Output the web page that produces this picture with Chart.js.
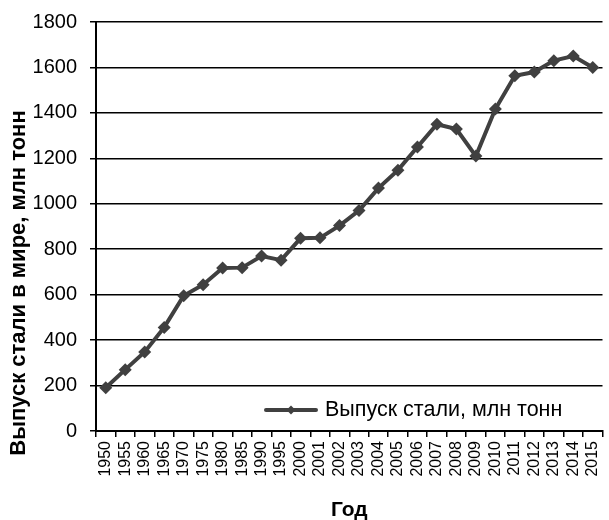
<!DOCTYPE html>
<html>
<head>
<meta charset="utf-8">
<script src="https://cdn.jsdelivr.net/npm/chart.js@4/dist/chart.umd.min.js"></script>
<style>
html,body{margin:0;padding:0;background:#fff;}
#wrap{width:609px;height:520px;}
</style>
</head>
<body>
<div id="wrap"><canvas id="c" width="609" height="520"></canvas></div>
<script>
const years = ["1950","1955","1960","1965","1970","1975","1980","1985","1990","1995","2000","2001","2002","2003","2004","2005","2006","2007","2008","2009","2010","2011","2012","2013","2014","2015"];
const steel = [190,270,348,456,595,644,717,719,770,752,848,850,904,970,1069,1148,1250,1350,1329,1210,1417,1563,1580,1630,1650,1600];
const yTicks = [0,200,400,600,800,1000,1200,1400,1600,1800];
const seriesLabel = "Выпуск стали, млн тонн";
const yTitle = "Выпуск стали в мире, млн тонн";
const xTitle = "Год";

const FONT = "'Liberation Sans', Arial, sans-serif";

const extras = {
  id: 'extras',
  afterDraw(chart) {
    const ctx = chart.ctx;
    const ds = chart.data.datasets[0];
    const x0 = 266, x1 = 316, y = 410;
    ctx.save();
    ctx.strokeStyle = ds.borderColor;
    ctx.lineWidth = 4;
    ctx.lineCap = 'round';
    ctx.beginPath(); ctx.moveTo(x0, y); ctx.lineTo(x1, y); ctx.stroke();
    ctx.fillStyle = ds.borderColor;
    const cx = (x0 + x1) / 2, r = 4.5;
    ctx.beginPath();
    ctx.moveTo(cx, y - r); ctx.lineTo(cx + r, y); ctx.lineTo(cx, y + r); ctx.lineTo(cx - r, y); ctx.closePath(); ctx.fill();
    ctx.fillStyle = '#000';
    ctx.font = "21.5px " + FONT;
    ctx.textBaseline = 'middle';
    ctx.textAlign = 'left';
    ctx.fillText(ds.label, 325, y);
    ctx.translate(19, 283);
    ctx.rotate(-Math.PI / 2);
    ctx.font = "bold 22px " + FONT;
    ctx.textAlign = 'center';
    ctx.fillText(yTitle, 0, 0);
    ctx.restore();
  }
};

new Chart(document.getElementById('c'), {
  type: 'line',
  data: {
    labels: years,
    datasets: [{
      label: seriesLabel,
      data: steel,
      borderColor: '#404040',
      backgroundColor: '#404040',
      borderWidth: 4,
      pointStyle: 'rectRot',
      pointRadius: 6.5,
      pointBorderWidth: 0,
      pointBackgroundColor: '#404040',
      tension: 0,
      fill: false
    }]
  },
  options: {
    responsive: false,
    animation: false,
    devicePixelRatio: 1,
    layout: { padding: { top: 22, right: -7, left: 7, bottom: 0 } },
    plugins: {
      legend: { display: false },
      tooltip: { enabled: false }
    },
    scales: {
      x: {
        offset: true,
        afterFit(axis) { axis.height = 89; axis.paddingLeft = 0; axis.paddingRight = 0; },
        grid: { drawOnChartArea: false, color: '#000', lineWidth: 1.5, tickLength: 6, offset: true },
        border: { color: '#000', width: 2 },
        ticks: { color: '#000', font: { family: FONT, size: 16 }, maxRotation: 90, minRotation: 90, autoSkip: false, padding: 4 },
        title: { display: true, text: xTitle, color: '#000', font: { family: FONT, size: 21, weight: 'bold' }, padding: { top: 0, bottom: -3 } }
      },
      y: {
        min: 0, max: 1800,
        afterFit(axis) { axis.width = 89; axis.paddingTop = 0; axis.paddingBottom = 0; axis.paddingLeft = 0; axis.paddingRight = 0; },
        afterBuildTicks(axis) { axis.ticks = yTicks.map(v => ({ value: v })); },
        grid: { color: '#000', lineWidth: 1.5, tickLength: 6 },
        border: { color: '#000', width: 2 },
        ticks: { color: '#000', font: { family: FONT, size: 20 }, padding: 13, callback: v => String(v) },
        title: { display: false }
      }
    }
  },
  plugins: [extras]
});
</script>
</body>
</html>
